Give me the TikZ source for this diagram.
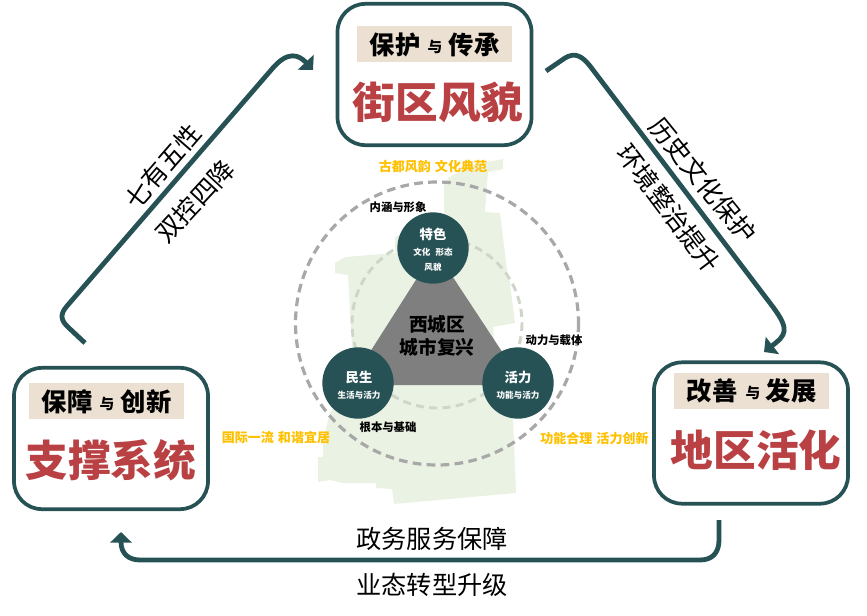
\documentclass[tikz,border=0pt]{standalone}
\usepackage{fontspec}
\setmainfont{Noto Sans CJK SC}
\usetikzlibrary{arrows.meta}
\definecolor{teal}{HTML}{275255}
\definecolor{titlered}{HTML}{B94143}
\definecolor{tan}{HTML}{EBE0D1}
\definecolor{mapgreen}{HTML}{EAF2E4}
\definecolor{gold}{HTML}{FFC000}
\definecolor{ringouter}{HTML}{A8A8A8}
\definecolor{ringinner}{HTML}{CFD6C9}
\definecolor{tri}{HTML}{7F7F7F}
\newcommand{\fpx}[1]{\fontsize{#1}{#1}\selectfont}
\tikzset{
  x=0.75pt,y=-0.75pt,
  boxnode/.style={draw=teal,line width=2.8pt,rounded corners=21pt,fill=white,minimum width=145.5pt,minimum height=106pt,inner sep=0pt},
  tanbar/.style={fill=tan,minimum width=116pt,minimum height=27pt,inner sep=0pt},
  headtxt/.style={inner sep=0pt,font=\fpx{19pt}\bfseries,text=black},
  yutxt/.style={inner sep=0pt,font=\fpx{11pt}\bfseries,text=black},
  titletxt/.style={inner sep=0pt,font=\fpx{32pt}\bfseries,text=titlered},
  flow/.style={draw=teal,line width=3.6pt,line cap=butt,line join=round},
  flowtip/.style={-{Triangle[length=8pt,width=16pt,fill=teal]}},
  flowtxt/.style={inner sep=0pt,font=\fpx{19pt},text=black},
  bottomtxt/.style={inner sep=0pt,font=\fpx{18.9pt},text=black},
  goldtxt/.style={inner sep=0pt,font=\fpx{9.8pt}\bfseries,text=gold},
  smalltxt/.style={inner sep=0pt,font=\fpx{8.5pt}\bfseries,text=black},
  disc/.style={circle,fill=teal,minimum size=53.5pt,inner sep=0pt},
  dischead/.style={inner sep=0pt,font=\fpx{10pt}\bfseries,text=white},
  discsub/.style={inner sep=0pt,font=\fpx{6.4pt}\bfseries,text=white},
  centertxt/.style={inner sep=0pt,font=\fpx{14pt}\bfseries,text=black},
}
\begin{document}
\begin{tikzpicture}
\useasboundingbox (0,0) rectangle (867,615);
% map
\fill[mapgreen] (444,215)--(444,185)--(448,178)--(470,165)--(503,159)--(503,169)--(488,172)--(485,212)--(500,213)--(507,270)--(510,283)--(515,323)--(493,327)--(495,350)--(512,395)--(513,417)--(516,493)--(394,504)--(392,489)--(376,488)--(376,483)--(343,483)--(330,480)--(318,482)--(318,457)--(323,457)--(323,440)--(330,413)--(345,390)--(352,347)--(348,275)--(335,273)--(335,263)--(345,257)--(395,253)--(395,237)--cycle;
% rings
\draw[ringinner,line width=2.2pt,dash pattern=on 6pt off 4pt] (437,323) circle[radius=85];
\draw[ringouter,line width=2.4pt,dash pattern=on 6.5pt off 4pt] (437,323.5) circle[radius=141.5];
% triangle
\fill[tri] (435,250)--(349,385)--(524,385)--cycle;
% discs
\node[disc] (feature) at (433,248) {};
\node[disc] (people) at (358,383) {};
\node[disc] (vital) at (518,383) {};
\node[dischead] (featureh) at (433,234) {特色};
\node[discsub] (features) at (433,252) {文化\hspace{0.6em}形态};
\node[discsub] (featurem) at (433,267) {风貌};
\node[dischead] (peopleh) at (359,377) {民生};
\node[discsub] (peoples) at (359,395) {生活与活力};
\node[dischead] (vitalh) at (518,377) {活力};
\node[discsub] (vitals) at (518,395) {功能与活力};
\node[centertxt] (c1) at (437,324) {西城区};
\node[centertxt] (c2) at (437,347) {城市复兴};
% small labels
\node[goldtxt] (g1) at (433,166) {古都风韵\hspace{0.3em}文化典范};
\node[goldtxt] (g2) at (276,437) {国际一流\hspace{0.3em}和谐宜居};
\node[goldtxt] (g3) at (594.5,439) {功能合理\hspace{0.3em}活力创新};
\node[smalltxt] (s1) at (398,207) {内涵与形象};
\node[smalltxt] (s2) at (554,340) {动力与载体};
\node[smalltxt] (s3) at (388,427) {根本与基础};
% boxes
\node[boxnode] (top) at (434.5,74.5) {};
\node[tanbar] (topbar) at (434.5,44) {};
\node[headtxt] (toph1) at (395,45) {保护};
\node[yutxt] (topy) at (435,47) {与};
\node[headtxt] (toph2) at (474,45) {传承};
\node[titletxt] (topt) at (438,102) {街区风貌};
\node[boxnode] (left) at (111,438.5) {};
\node[tanbar] (leftbar) at (106.5,401) {};
\node[headtxt] (lefth1) at (67,402) {保障};
\node[yutxt] (lefty) at (107,404) {与};
\node[headtxt] (lefth2) at (146,402) {创新};
\node[titletxt] (leftt) at (111,460) {支撑系统};
\node[boxnode] (right) at (751,433) {};
\node[tanbar] (rightbar) at (751.5,390.5) {};
\node[headtxt] (righth1) at (712,391) {改善};
\node[yutxt] (righty) at (753,393) {与};
\node[headtxt] (righth2) at (791,391) {发展};
\node[titletxt] (rightt) at (756,450) {地区活化};
% flows
\coordinate (a0) at (85,343);
\coordinate (a1) at (313,70);
\coordinate (b0) at (546,71);
\coordinate (b1) at (764,352);
\coordinate (c0) at (719,520);
\coordinate (c1end) at (121,532);
\draw[flow,flowtip] (a0) -- (69,328) .. controls (60,320) and (60,314) .. (67,306) -- (272,69) .. controls (288,50) and (299,55) .. (a1);
\draw[flow,flowtip] (b0) -- (565,58) .. controls (575,52) and (582,56) .. (590,66) -- (773,307) .. controls (790,330) and (786,335) .. (b1);
\draw[flow,flowtip] (c0) -- (719,540) .. controls (719,553) and (712,560) .. (700,560) -- (140,560) .. controls (128,560) and (121,553) .. (c1end);
% flow labels
\node[flowtxt,rotate=49] (l1) at (163,166.5) {七有五性};
\node[flowtxt,rotate=47] (l2) at (195,201) {双控四降};
\node[flowtxt,rotate=-51] (l3) at (703,180) {历史文化保护};
\node[flowtxt,rotate=-53] (l4) at (669,208.5) {环境整治提升};
\node[bottomtxt] (l5) at (432,539) {政务服务保障};
\node[bottomtxt] (l6) at (432,585) {业态转型升级};
\end{tikzpicture}
\end{document}
